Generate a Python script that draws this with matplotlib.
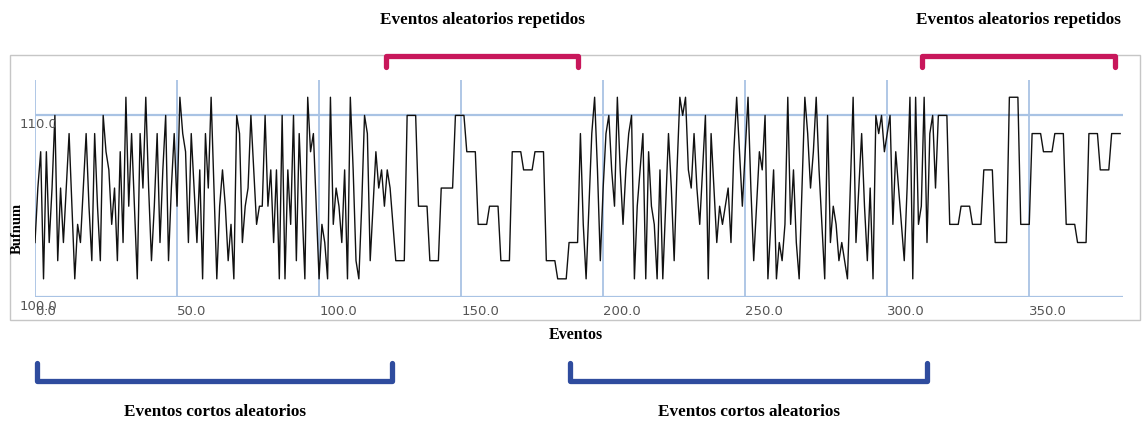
import numpy as np
import matplotlib
matplotlib.use("Agg")
from matplotlib import pyplot as plt
from matplotlib.patches import Rectangle
from matplotlib.transforms import blended_transform_factory

# tramo 1: eventos cortos aleatorios (x = 0..126)
cortos_1 = [103, 106, 108, 101, 108, 103, 106, 110, 102, 106,
            103, 106, 109, 105, 101, 104, 103, 106, 109, 105,
            102, 109, 105, 102, 110, 108, 107, 104, 106, 102,
            108, 103, 111, 105, 109, 105, 101, 109, 106, 111,
            106, 102, 105, 109, 103, 107, 110, 102, 106, 109,
            105, 111, 109, 108, 103, 109, 106, 103, 107, 101,
            109, 106, 111, 106, 101, 105, 107, 105, 102, 104,
            101, 110, 109, 103, 105, 106, 110, 107, 104, 105,
            105, 110, 105, 107, 103, 107, 101, 110, 101, 107,
            104, 110, 102, 109, 105, 101, 111, 108, 109, 105,
            101, 104, 103, 101, 111, 104, 106, 105, 103, 107,
            101, 111, 107, 102, 101, 105, 110, 109, 102, 105,
            108, 106, 107, 105, 107, 106, 104]

# tramo 2: eventos repetidos (nivel y cuantas veces se repite)
repetidos_1 = [102, 110, 105, 102, 106, 110, 108, 104, 105, 102, 108, 107, 108, 102, 101, 103]
veces_1 = [4, 4, 4, 4, 5, 4, 4, 4, 4, 4, 4, 4, 4, 4, 4, 4]

# tramo 3: eventos cortos aleatorios
cortos_2 = [109, 104, 101, 105, 109, 111, 107, 102,
            106, 109, 110, 107, 105, 111, 107, 104, 107, 109,
            110, 101, 105, 107, 109, 101, 108, 105, 104, 101,
            107, 101, 105, 109, 106, 102, 107, 111, 110, 111,
            107, 106, 109, 106, 104, 107, 110, 101, 109, 106,
            103, 105, 104, 105, 106, 103, 108, 111, 108, 105,
            108, 111, 106, 102, 105, 108, 107, 110, 101, 104,
            107, 101, 103, 102, 104, 111, 104, 107, 103, 101,
            106, 111, 109, 106, 108, 111, 107, 104, 101, 110,
            103, 105, 104, 102, 103, 102, 101, 106, 111, 103,
            106, 109, 105, 102, 106, 101, 110, 109, 110, 108,
            109, 110, 104, 108, 106, 104, 102, 106, 111, 101,
            111, 104, 105, 111, 103, 109, 110, 106]

# tramo 4: eventos repetidos
repetidos_2 = [110, 104, 105, 104, 107, 103, 111, 104, 109, 108, 109, 104, 103, 109, 107, 109]
veces_2 = [4, 4, 4, 4, 4, 5, 4, 4, 4, 4, 4, 4, 4, 4, 4, 4]

xticks = [0, 50, 100, 150, 200, 250, 300, 350]
yticks = [100, 110]

bufnum = np.concatenate([cortos_1, np.repeat(repetidos_1, veces_1),
                         cortos_2, np.repeat(repetidos_2, veces_2)])
eventos = np.arange(len(bufnum))

W, H = 1148, 421
fig = plt.figure(figsize=(W / 100, H / 100), dpi=100)
ax = fig.add_axes([35 / W, 1 - 297 / H, (1123 - 35) / W, (297 - 80) / H])

serif = ["Liberation Serif", "DejaVu Serif"]
grid_col = "#a9c3e4"

# marco exterior, por debajo de las llaves
fig.patches.append(Rectangle((10 / W, 1 - 320 / H), 1130 / W, 265 / H,
                             transform=fig.transFigure, fill=False,
                             edgecolor="#c6c6c6", lw=1, zorder=-1))

for v in xticks:
    ax.axvline(v, color=grid_col, lw=1.3, zorder=1)
for v in yticks:
    ax.axhline(v, color=grid_col, lw=1.6, zorder=1)

ax.plot(eventos, bufnum, color="#111111", lw=1.0, zorder=3)

ax.set_xlim(0, 383)
ax.set_ylim(100, 111.95)
for s in ax.spines.values():
    s.set_visible(False)

ax.set_xticks(xticks)
ax.set_xticklabels([f"{v:.1f}" for v in xticks], fontsize=9.5, color="#555555")
for lab in ax.get_xticklabels():
    lab.set_ha("left")
ax.tick_params(axis="x", length=0, pad=6)
ax.set_yticks([])

for v in yticks:
    ax.annotate(f"{v:.1f}", xy=(0, v), xycoords=("axes fraction", "data"),
                xytext=(-15, -3), textcoords="offset pixels",
                ha="left", va="top", fontsize=9.5, color="#555555", zorder=4)

fig.text(17 / W, 1 - 228 / H, "Bufnum", rotation=90, ha="center", va="center",
         family=serif, fontweight="bold", fontsize=10.5)
fig.text(576 / W, 1 - 335 / H, "Eventos", ha="center", va="center",
         family=serif, fontweight="bold", fontsize=11.5)

# llaves de anotacion: x en datos, y en fraccion de figura
tr = blended_transform_factory(ax.transData, fig.transFigure)


def llave(x0, x1, y_barra, y_punta, color, texto, y_texto):
    ax.plot([x0, x0, x1, x1], [1 - y_punta / H, 1 - y_barra / H, 1 - y_barra / H, 1 - y_punta / H],
            transform=tr, clip_on=False, color=color, lw=3.8,
            solid_joinstyle="round", solid_capstyle="round", zorder=5)
    ax.text((x0 + x1) / 2, 1 - y_texto / H, texto, transform=tr, ha="center", va="center",
            family=serif, fontweight="bold", fontsize=12.3)


rojo = "#c8175b"
azul = "#2f4c9e"
llave(123.6, 191.2, 56, 67, rojo, "Eventos aleatorios repetidos", 20)
llave(312.3, 380.3, 56, 67, rojo, "Eventos aleatorios repetidos", 20)
llave(0.7, 125.7, 381, 363, azul, "Eventos cortos aleatorios", 412)
llave(188.4, 314.0, 381, 363, azul, "Eventos cortos aleatorios", 412)

fig.savefig("out.png", dpi=100)
